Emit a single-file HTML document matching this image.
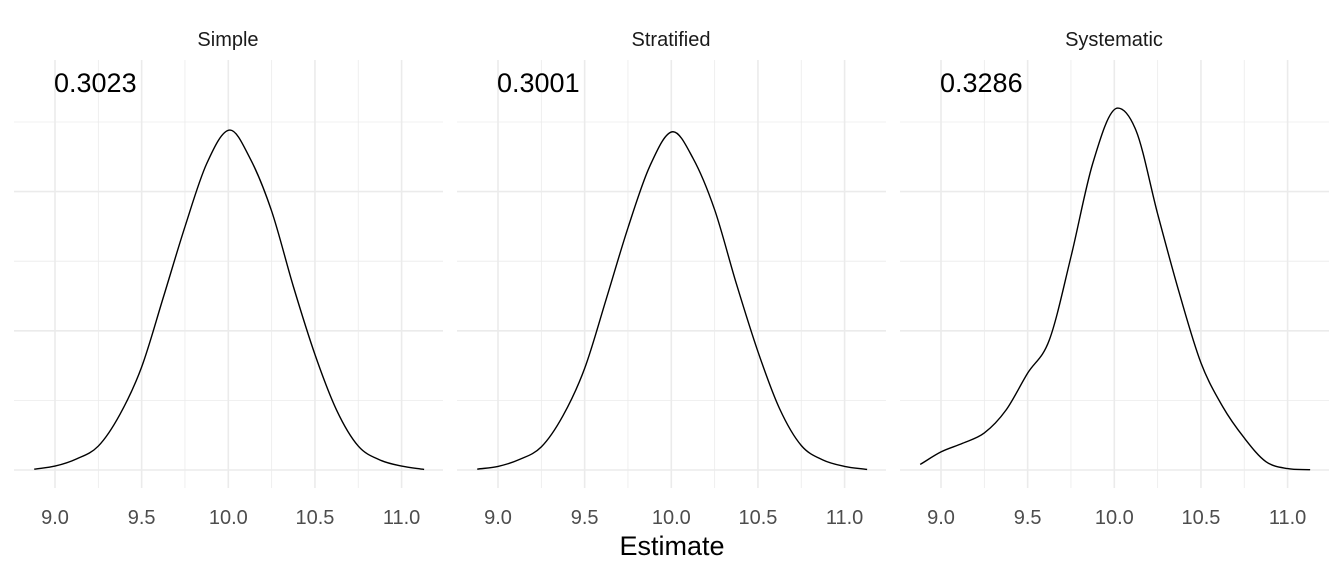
<!DOCTYPE html>
<html><head><meta charset="utf-8"><style>
body{margin:0;background:#fff}
svg text{font-family:"Liberation Sans",Arial,sans-serif}
</style></head><body>
<svg id="chart" width="1344" height="576" xmlns="http://www.w3.org/2000/svg"></svg>
<script>
const panelNames = ["Simple","Stratified","Systematic"];
const panelStats = ["0.3023","0.3001","0.3286"];
const xTicks = [9.0,9.5,10.0,10.5,11.0];
const xTickLabels = ["9.0","9.5","10.0","10.5","11.0"];
const xMinor = [9.25,9.75,10.25,10.75];
const yMajor = [0,0.5,1.0];
const yMinor = [0.25,0.75,1.25];
const xsSimple = [8.88,9.0,9.125,9.25,9.375,9.5,9.625,9.75,9.875,10.01,10.125,10.25,10.375,10.5,10.625,10.75,10.875,11.0,11.13];
const ysSimple = [0.003,0.014,0.04,0.086,0.2,0.37,0.62,0.874,1.1,1.221,1.12,0.93,0.66,0.415,0.215,0.086,0.036,0.014,0.002];
const xsStrat = [8.88,9.0,9.125,9.25,9.375,9.5,9.625,9.75,9.875,10.01,10.125,10.25,10.375,10.5,10.625,10.75,10.875,11.0,11.13];
const ysStrat = [0.003,0.013,0.038,0.083,0.195,0.365,0.615,0.87,1.09,1.215,1.12,0.935,0.67,0.425,0.22,0.088,0.036,0.013,0.002];
const xsSyst = [8.88,9.0,9.125,9.25,9.375,9.5,9.625,9.75,9.875,10.02,10.125,10.25,10.375,10.5,10.625,10.75,10.875,11.0,11.13];
const ysSyst = [0.02,0.065,0.096,0.133,0.215,0.348,0.467,0.766,1.10,1.30,1.22,0.92,0.636,0.385,0.228,0.115,0.03,0.005,0.001];
const seriesX = [xsSimple,xsStrat,xsSyst];
const seriesY = [ysSimple,ysStrat,ysSyst];

const svg = document.getElementById('chart');
const NS = "http://www.w3.org/2000/svg";
function mk(tag, attrs, parent){const e=document.createElementNS(NS,tag);for(const k in attrs)e.setAttribute(k,attrs[k]);(parent||svg).appendChild(e);return e;}
const panelLeft = [14,457,900], panelW = 429;
const base = 470, pxPerY = 278.4, pxPerX = 173.3;
function yScale(v){return base - v*pxPerY;}
function mono(pts){
  const n=pts.length,dx=[],s=[],m=[];
  for(let i=0;i<n-1;i++){dx[i]=pts[i+1][0]-pts[i][0];s[i]=(pts[i+1][1]-pts[i][1])/dx[i];}
  m[0]=s[0];m[n-1]=s[n-2];
  for(let i=1;i<n-1;i++){m[i]=(s[i-1]*s[i]<=0)?0:(s[i-1]*dx[i]+s[i]*dx[i-1])/(dx[i]+dx[i-1]);}
  let d="M"+pts[0][0]+","+pts[0][1];
  for(let i=0;i<n-1;i++){const h=dx[i]/3;d+=" C"+(pts[i][0]+h)+","+(pts[i][1]+m[i]*h)+" "+(pts[i+1][0]-h)+","+(pts[i+1][1]-m[i+1]*h)+" "+pts[i+1][0]+","+pts[i+1][1];}
  return d;}
for(let p=0;p<3;p++){
  const L=panelLeft[p];
  const xScale=v=>L+41+(v-9)*pxPerX;
  const g=mk('g',{});
  
  
  yMinor.forEach(v=>{const l=mk('line',{x1:L,x2:L+panelW,y1:yScale(v),y2:yScale(v),stroke:'#ebebeb','stroke-width':0.8},g);});
  xMinor.forEach(v=>{const l=mk('line',{x1:xScale(v),x2:xScale(v),y1:60,y2:488,stroke:'#ebebeb','stroke-width':0.8},g);});
  yMajor.forEach(v=>{const l=mk('line',{x1:L,x2:L+panelW,y1:yScale(v),y2:yScale(v),stroke:'#ebebeb','stroke-width':1.6},g);});
  xTicks.forEach((v,i)=>{const l=mk('line',{x1:xScale(v),x2:xScale(v),y1:60,y2:488,stroke:'#ebebeb','stroke-width':1.6},g);
    const t=mk('text',{x:xScale(v),y:524,'text-anchor':'middle','font-size':20,fill:'#4d4d4d'},g);t.textContent=xTickLabels[i];});
  const pts=seriesX[p].map((x,i)=>[xScale(x),yScale(seriesY[p][i])]);
  const path=mk('path',{d:mono(pts),fill:'none',stroke:'#000','stroke-width':1.4},g);
  
  
  const st=mk('text',{x:L+214,y:46,'text-anchor':'middle','font-size':20,fill:'#1a1a1a'},g);st.textContent=panelNames[p];
  
  
  const an=mk('text',{x:L+40,y:92,'font-size':27,fill:'#000'},g);an.textContent=panelStats[p];
  
  
}
const xt=mk('text',{x:672,y:555,'text-anchor':'middle','font-size':27,fill:'#000'});xt.textContent='Estimate';


</script>
</body></html>
